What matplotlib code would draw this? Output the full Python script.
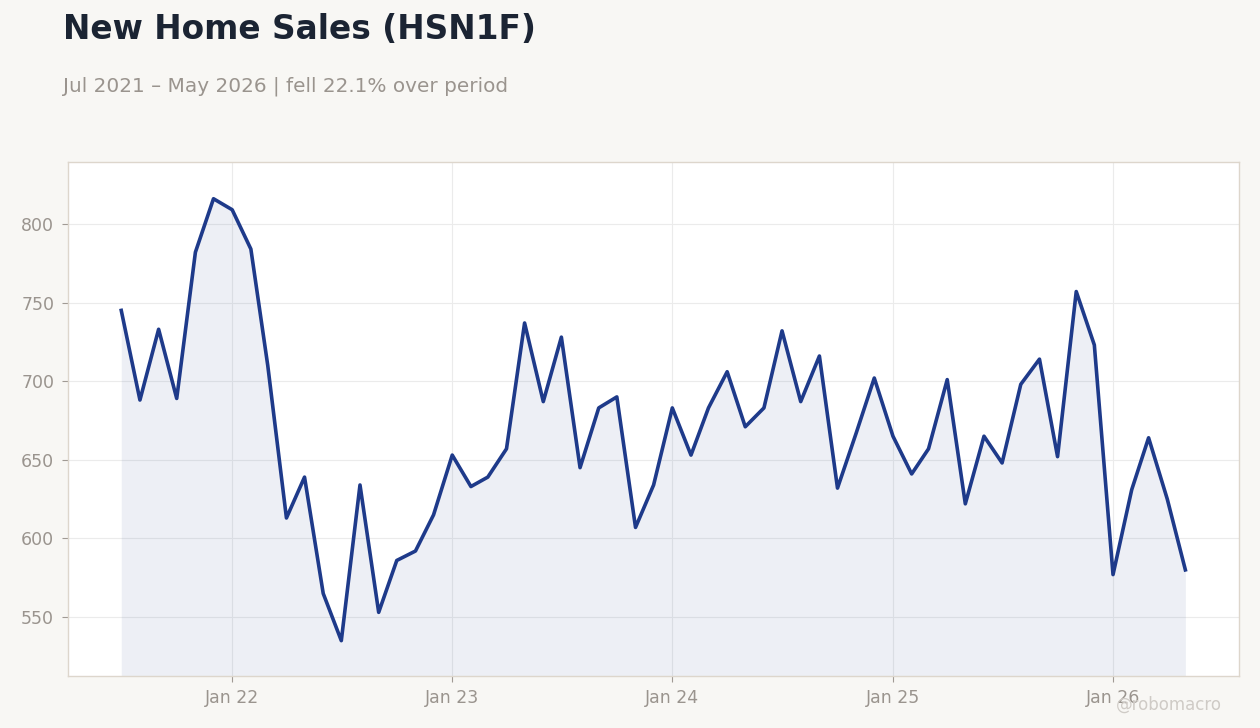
import matplotlib
matplotlib.use("Agg")
import matplotlib.pyplot as plt
import matplotlib.dates as mdates
import pandas as pd

# 月度新房销售数据 (千套, 年化)
dates = pd.date_range("2021-07-01", "2026-05-01", freq="MS")
sales = [745, 688, 733, 689, 782, 816, 809, 784, 710, 613, 639, 565,
         535, 634, 553, 586, 592, 615, 653, 633, 639, 657, 737, 687,
         728, 645, 683, 690, 607, 634, 683, 653, 683, 706, 671, 683,
         732, 687, 716, 632, 667, 702, 665, 641, 657, 701, 622, 665,
         648, 698, 714, 652, 757, 723, 577, 631, 664, 625, 580]

title = "New Home Sales (HSN1F)"
subtitle = "Jul 2021 – May 2026 | fell 22.1% over period"

bg = "#f8f7f4"
navy = "#1e3a8a"
grey = "#9a948e"

fig = plt.figure(figsize=(12.6, 7.28), dpi=100, facecolor=bg)
ax = fig.add_axes([0.054, 0.0714, 0.929, 0.706])
ax.set_facecolor("white")

ax.plot(dates, sales, color=navy, lw=2.6, zorder=3)
ax.margins(x=0.05)
rng = max(sales) - min(sales)
ymin = min(sales) - 0.08 * rng
ax.set_ylim(ymin, max(sales) + 0.083 * rng)
ax.fill_between(dates, sales, ymin, color=navy, alpha=0.08, lw=0, zorder=2)

ax.xaxis.set_major_locator(mdates.YearLocator(month=1))
ax.xaxis.set_major_formatter(mdates.DateFormatter("Jan %y"))
ax.yaxis.set_major_locator(plt.MultipleLocator(50))

ax.grid(True, color="#ebebeb", lw=0.8, zorder=0)
for s in ax.spines.values():
    s.set_color("#ddd6cc")
    s.set_linewidth(1)
ax.tick_params(colors="#a09a94", labelcolor=grey, labelsize=12.5, length=4)
ax.tick_params(axis="x", pad=5)
ax.tick_params(axis="y", pad=6)

fig.text(0.05, 0.96, title, fontsize=23.6, fontweight="bold", color="#1b2433",
         ha="left", va="center")
fig.text(0.05, 0.882, subtitle, fontsize=14.4, color=grey, ha="left", va="center")
fig.text(0.97, 0.032, "@robomacro", fontsize=12, color="#cfcbc6",
         ha="right", va="center")

fig.savefig("out.png", dpi=100, facecolor=bg)
